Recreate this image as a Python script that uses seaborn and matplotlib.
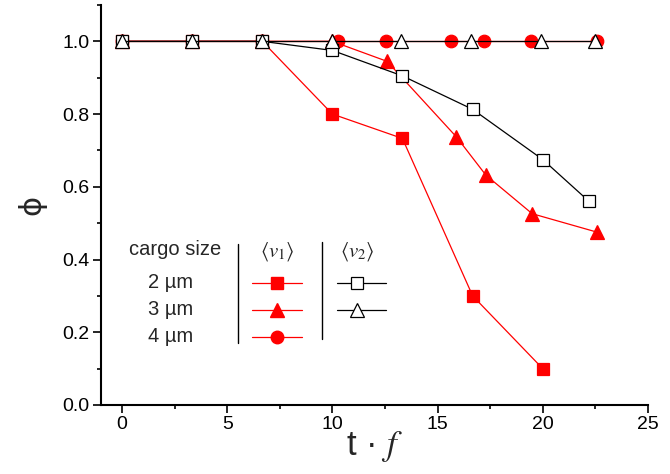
import matplotlib

matplotlib.use("Agg")
import matplotlib.pyplot as plt  # noqa: E402
import matplotlib.ticker  # noqa: E402
from matplotlib.lines import Line2D  # noqa: E402
import pandas as pd
import seaborn as sns

# data: phi vs t*f
sq_v1_x = [0, 3.33, 6.67, 10, 13.33, 16.67, 20]
sq_v1_y = [1.0, 1.0, 1.0, 0.80, 0.733, 0.30, 0.10]

tri_v1_x = [0, 3.33, 6.67, 10, 12.6, 15.9, 17.3, 19.5, 22.6]
tri_v1_y = [1.0, 1.0, 1.0, 1.0, 0.945, 0.737, 0.632, 0.526, 0.475]

circ_v1_x = [0, 3.33, 6.67, 10.25, 12.55, 15.65, 17.2, 19.45, 22.6]
circ_v1_y = [1.0, 1.0, 1.0, 1.0, 1.0, 1.0, 1.0, 1.0, 1.0]

sq_v2_x = [0, 3.33, 6.67, 10, 13.33, 16.67, 20, 22.2]
sq_v2_y = [1.0, 1.0, 1.0, 0.975, 0.905, 0.813, 0.675, 0.56]

tri_v2_x = [0, 3.33, 6.67, 10, 13.25, 16.6, 19.9, 22.5]
tri_v2_y = [1.0, 1.0, 1.0, 1.0, 1.0, 1.0, 1.0, 1.0]

sizes = ["2 µm", "3 µm", "4 µm"]

RED = "#ff0000"

sns.set_theme(style="ticks")
plt.rcParams["font.family"] = ["Liberation Sans", "DejaVu Sans"]
plt.rcParams["mathtext.fontset"] = "stix"

fig = plt.figure(figsize=(6.7, 4.74), dpi=100)
ax = fig.add_axes([0.1507, 0.1456, 0.8163, 0.8439])

series = [
    (circ_v1_x, circ_v1_y, "o", RED, RED, 9),
    (sq_v1_x, sq_v1_y, "s", RED, RED, 8),
    (tri_v1_x, tri_v1_y, "^", RED, RED, 10),
    (sq_v2_x, sq_v2_y, "s", "black", "white", 8),
    (tri_v2_x, tri_v2_y, "^", "black", "white", 10),
]
for xs, ys, mk, col, face, ms in series:
    df = pd.DataFrame({"x": xs, "y": ys})
    sns.lineplot(
        data=df, x="x", y="y", sort=False, estimator=None, ax=ax,
        color=col, linewidth=0.9, marker=mk, markersize=ms,
        markerfacecolor=face, markeredgecolor="black" if face == "white" else col,
        markeredgewidth=0.9,
    )

ax.set_xlim(-1, 25)
ax.set_ylim(0, 1.1)
ax.xaxis.set_major_locator(matplotlib.ticker.MultipleLocator(5))
ax.xaxis.set_minor_locator(matplotlib.ticker.MultipleLocator(2.5))
ax.yaxis.set_major_locator(matplotlib.ticker.MultipleLocator(0.2))
ax.yaxis.set_minor_locator(matplotlib.ticker.MultipleLocator(0.1))
ax.yaxis.set_major_formatter(matplotlib.ticker.FormatStrFormatter("%.1f"))
ax.tick_params(which="major", length=6, width=1.2, labelsize=14, colors="black", direction="out", pad=2)
ax.tick_params(which="minor", length=3, width=1.2, direction="out", colors="black")
sns.despine(ax=ax)
for sp in ("left", "bottom"):
    ax.spines[sp].set_linewidth(1.5)
    ax.spines[sp].set_color("black")

ax.set_xlabel("t · $f$", fontsize=25, labelpad=-3)
ax.set_ylabel("ϕ", fontsize=22, labelpad=12, family=["DejaVu Sans"])

# custom table-style legend in axes fraction coordinates
tr = ax.transAxes


def fx(px):
    return (px - 101) / 547


def fy(py):
    return (405 - py) / 400


ax.text(fx(175), fy(250), "cargo size", transform=tr, fontsize=14.5, ha="center", va="center")
rows_y = [283, 310, 337]
for lab, yy in zip(sizes, rows_y):
    ax.text(fx(171), fy(yy), lab, transform=tr, fontsize=14.5, ha="center", va="center")
ax.text(fx(277), fy(252), r"$\langle v_1\rangle$", transform=tr, fontsize=15, ha="center", va="center")
ax.text(fx(357), fy(252), r"$\langle v_2\rangle$", transform=tr, fontsize=15, ha="center", va="center")
ax.add_line(Line2D([fx(238)] * 2, [fy(244), fy(343)], transform=tr, color="black", lw=1))
ax.add_line(Line2D([fx(322)] * 2, [fy(242), fy(339)], transform=tr, color="black", lw=1))

v1_markers = [("s", 8), ("^", 10), ("o", 9)]
for (mk, ms), yy in zip(v1_markers, rows_y):
    ax.add_line(Line2D([fx(252), fx(302)], [fy(yy)] * 2, transform=tr, color=RED, lw=0.9))
    ax.add_line(Line2D([fx(277)], [fy(yy)], transform=tr, color=RED, marker=mk, markersize=ms, ls="none"))
v2_markers = [("s", 8), ("^", 10)]
for (mk, ms), yy in zip(v2_markers, rows_y):
    ax.add_line(Line2D([fx(337), fx(386)], [fy(yy)] * 2, transform=tr, color="black", lw=0.9))
    ax.add_line(Line2D([fx(357)], [fy(yy)], transform=tr, marker=mk, markersize=ms, ls="none",
                       markerfacecolor="white", markeredgecolor="black", markeredgewidth=0.9))

fig.savefig("out.png", dpi=100)
plt.close(fig)
